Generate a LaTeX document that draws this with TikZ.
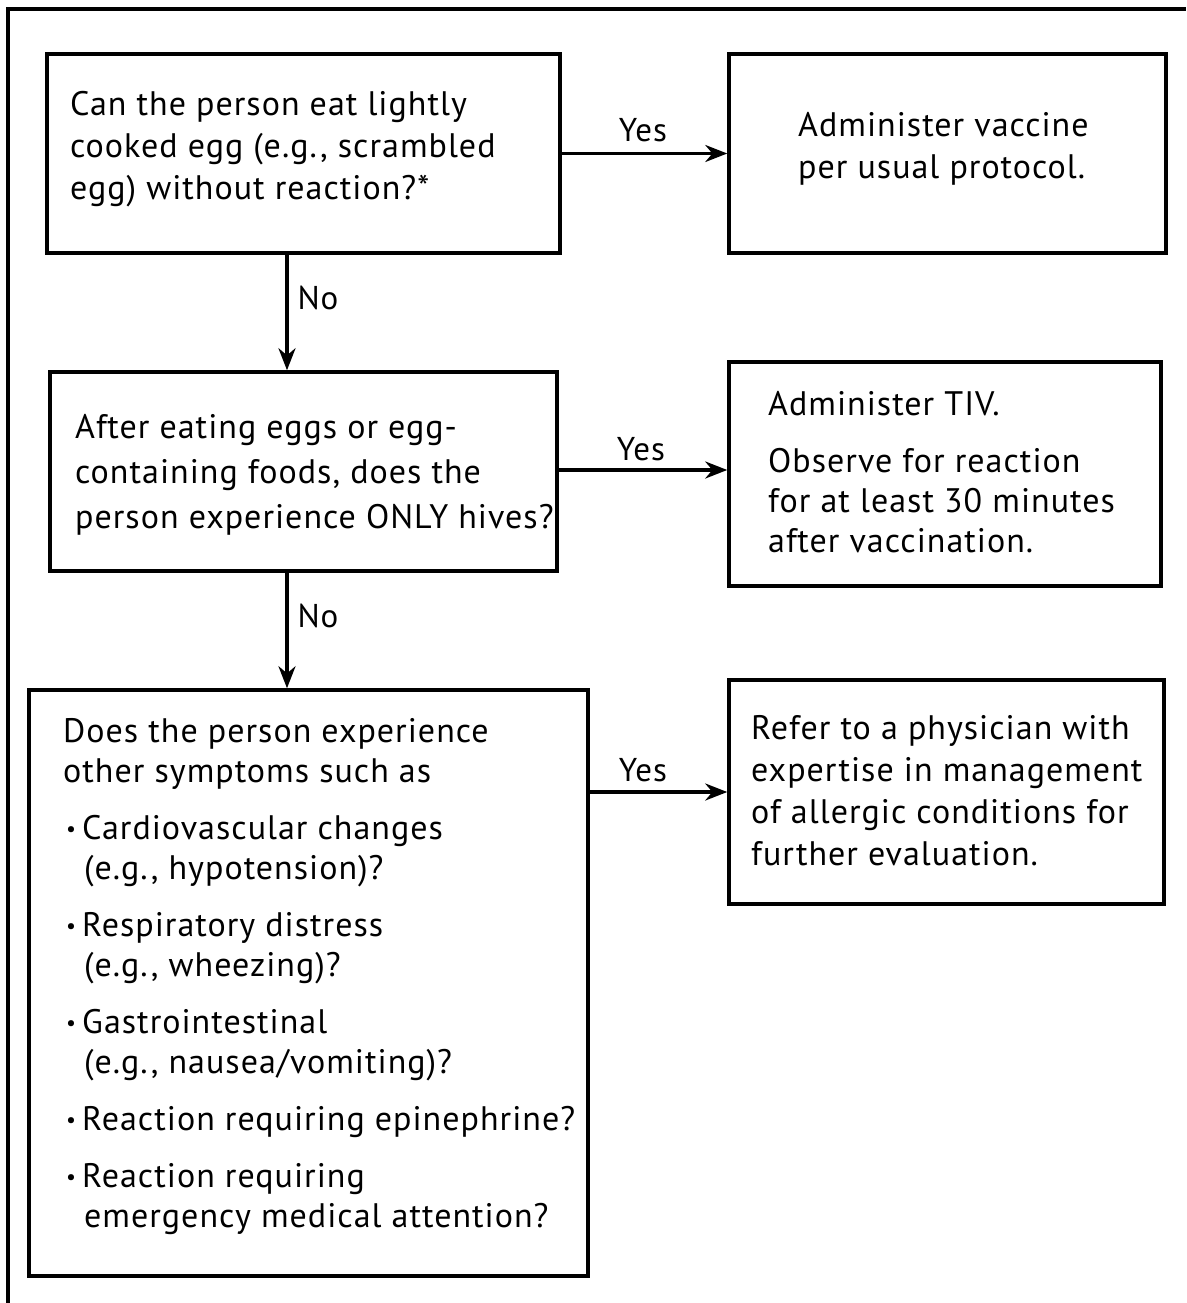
\documentclass[tikz,border=0pt]{standalone}
\usepackage{fontspec}
\setmainfont{PT Sans}[LetterSpace=3]
\usetikzlibrary{arrows.meta}
\newcommand{\blt}{\makebox[19pt][l]{\fontsize{22}{22}\selectfont\hspace*{3pt}\raisebox{3pt}{•}}}
\newcommand{\ind}{\hspace*{21pt}}
\begin{document}
\begin{tikzpicture}[x=1pt,y=-1pt,
  box/.style={draw, line width=3.5pt, inner sep=0pt, rectangle},
  txt/.style={anchor=north west, inner sep=0pt, align=left, font=\fontsize{34}{42}\selectfont},
  arr/.style={line width=3.5pt, -{Stealth[length=22pt,width=17pt]}},
  lab/.style={font=\fontsize{33}{35}\selectfont, inner sep=0pt}]
\useasboundingbox (0,0) rectangle (1186,1303);
\fill[white] (0,0) rectangle (1186,1303);
\draw[line width=4pt] (7.5,1303) -- (7.5,9.5) -- (1186,9.5);

\node[box, minimum width=513pt, minimum height=199pt] (b1) at (303.5,153.5) {};
\node[box, minimum width=437pt, minimum height=199pt] (b2) at (947.5,153.5) {};
\node[box, minimum width=507pt, minimum height=199pt] (b3) at (303.5,471.5) {};
\node[box, minimum width=432pt, minimum height=224pt] (b4) at (945,474) {};
\node[box, minimum width=559pt, minimum height=586pt] (b5) at (308.5,983) {};
\node[box, minimum width=435pt, minimum height=224pt] (b6) at (946.5,792) {};

\node[txt] (t1) at (70,91) {Can the person eat lightly\\cooked egg (e.g., scrambled\\egg) without reaction?*};
\node[txt] (t2) at (798,112) {Administer vaccine\\per usual protocol.};
\node[txt, font=\fontsize{34}{45}\selectfont] (t3) at (75,414) {After eating eggs or egg-\\containing foods, does the\\person experience ONLY hives?};
\node[txt, font=\fontsize{34}{40}\selectfont] (t4) at (768,391) {Administer TIV.\\[17pt]Observe for reaction\\for at least 30 minutes\\after vaccination.};
\node[txt] (t6) at (751,715) {Refer to a physician with\\expertise in management\\of allergic conditions for\\further evaluation.};
\node[txt, font=\fontsize{34}{40}\selectfont] (t5) at (63,718) {Does the person experience\\other symptoms such as\\[17pt]
\blt Cardiovascular changes\\\ind (e.g., hypotension)?\\[17pt]
\blt Respiratory distress\\\ind (e.g., wheezing)?\\[17pt]
\blt Gastrointestinal\\\ind (e.g., nausea/vomiting)?\\[17pt]
\blt Reaction requiring epinephrine?\\[17pt]
\blt Reaction requiring\\\ind emergency medical attention?};

\coordinate (vx) at (287,0);
\draw[arr] (b1.east) -- (b1.east -| b2.west);
\draw[arr] (b3.east |- 0,470) -- (b4.west |- 0,470);
\draw[arr] (b5.east |- b6.west) -- (b6.west);
\draw[arr] (b1.south -| vx) -- (b3.north -| vx);
\draw[arr] (b3.south -| vx) -- (b5.north -| vx);

\node[lab] (y1) at (643,130) {Yes};
\node[lab] (y2) at (641,449) {Yes};
\node[lab] (y3) at (643,770) {Yes};
\node[lab] (n1) at (318,298) {No};
\node[lab] (n2) at (318,616) {No};
\end{tikzpicture}
\end{document}
